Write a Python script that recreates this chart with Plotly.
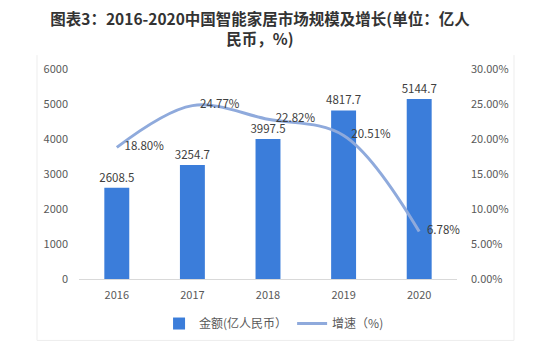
import plotly.graph_objects as go

# 2016-2020 China smart home market size and growth
years = ["2016", "2017", "2018", "2019", "2020"]
market_size = [2608.5, 3254.7, 3997.5, 4817.7, 5144.7]      # 亿人民币
growth_rate = [18.80, 24.77, 22.82, 20.51, 6.78]             # %

left_ticks = [0, 1000, 2000, 3000, 4000, 5000, 6000]
right_ticks = [0, 5, 10, 15, 20, 25, 30]

FONT = "Noto Sans CJK SC, Microsoft YaHei, sans-serif"
BAR_COLOR = "#3B7DDA"
LINE_COLOR = "#8FAADC"
TEXT_COLOR = "#404040"
TICK_COLOR = "#595959"

fig = go.Figure()

fig.add_trace(go.Bar(
    x=years,
    y=market_size,
    name="金额(亿人民币）",
    marker=dict(color=BAR_COLOR, line=dict(width=0)),
    width=0.33,
    text=[f"{v:.1f}" for v in market_size],
    textposition="outside",
    constraintext="none",
    textfont=dict(family=FONT, size=11.5, color=TEXT_COLOR),
    cliponaxis=False,
    yaxis="y",
))

fig.add_trace(go.Scatter(
    x=years,
    y=[v / 100 for v in growth_rate],
    name="增速（%)",
    mode="lines+text",
    line=dict(color=LINE_COLOR, width=3, shape="spline", smoothing=1.0),
    text=[f"   {v:.2f}%" for v in growth_rate],
    textposition="middle right",
    textfont=dict(family=FONT, size=11.5, color=TEXT_COLOR),
    cliponaxis=False,
    yaxis="y2",
))

fig.update_layout(
    width=555,
    height=350,
    margin=dict(l=79, r=98, t=69, b=69),
    paper_bgcolor="white",
    plot_bgcolor="white",
    font=dict(family=FONT, size=11, color=TICK_COLOR),
    title=dict(
        text="<b>图表3：2016-2020中国智能家居市场规模及增长(单位：亿人<br>民币，%)</b>",
        x=260 / 555,
        xanchor="center",
        y=1 - 25 / 350,
        yanchor="middle",
        font=dict(family=FONT, size=15.5, color="#333333"),
    ),
    showlegend=True,
    legend=dict(
        orientation="h",
        x=0.516,
        xanchor="center",
        y=-0.212,
        yanchor="middle",
        font=dict(family=FONT, size=12, color=TICK_COLOR),
        itemwidth=30,
        tracegroupgap=0,
    ),
    bargap=0.67,
    xaxis=dict(
        type="category",
        showgrid=False,
        showline=True,
        linecolor="#D9D9D9",
        linewidth=1,
        ticks="",
        ticklabelstandoff=6,
        tickfont=dict(family=FONT, size=11, color=TICK_COLOR),
    ),
    yaxis=dict(
        range=[0, 6000],
        tickvals=left_ticks,
        ticktext=[str(v) for v in left_ticks],
        showgrid=False,
        zeroline=False,
        showline=False,
        ticks="",
        ticklabelstandoff=10,
        tickfont=dict(family=FONT, size=11, color=TICK_COLOR),
    ),
    yaxis2=dict(
        overlaying="y",
        side="right",
        range=[0, 0.30],
        tickvals=[v / 100 for v in right_ticks],
        ticktext=[f"{v:.2f}%" for v in right_ticks],
        showgrid=False,
        zeroline=False,
        showline=False,
        ticks="",
        ticklabelstandoff=13,
        tickfont=dict(family=FONT, size=11, color=TICK_COLOR),
    ),
)

# faint chart-area frame
frame = dict(type="line", xref="paper", yref="paper", line=dict(color="#EDEDED", width=1), layer="below")
x0p, x1p = (37 - 79) / 378, (514 - 79) / 378
y_bottom = (281 - 343) / 212
y_top = (281 - 55) / 212
fig.add_shape(**frame, x0=x0p, x1=x1p, y0=y_bottom, y1=y_bottom)
fig.add_shape(**frame, x0=x0p, x1=x0p, y0=y_bottom, y1=y_top)
fig.add_shape(**frame, x0=x1p, x1=x1p, y0=y_bottom, y1=y_top)

fig.write_html("out.html")
